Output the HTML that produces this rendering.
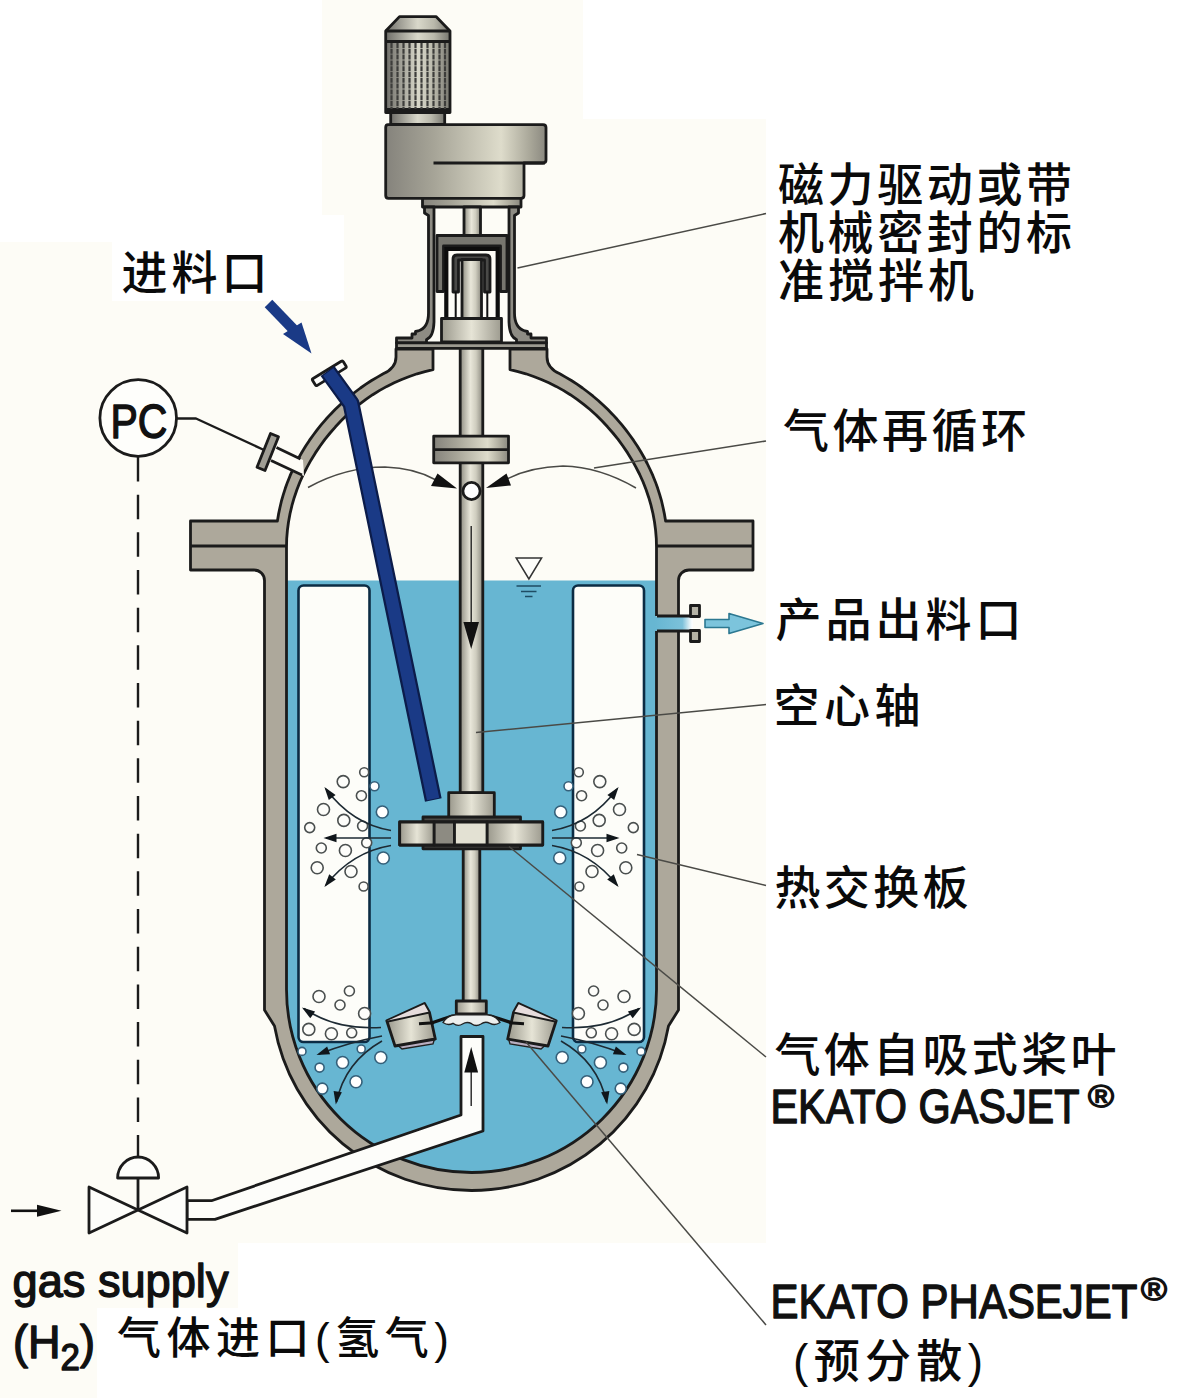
<!DOCTYPE html>
<html lang="zh">
<head>
<meta charset="utf-8">
<title>EKATO reactor</title>
<style>
html,body{margin:0;padding:0;background:#ffffff;}
svg{display:block;}
.cn{font-family:"Liberation Sans","Noto Sans CJK SC",sans-serif;font-weight:500;fill:#0a0a0a;}
.en{font-family:"Liberation Sans",sans-serif;fill:#111;stroke:#111;stroke-width:1.4;stroke-linejoin:round;}
.ol{stroke:#1b1b1b;stroke-width:2.8;stroke-linejoin:round;}
.thin{stroke:#4a4a46;stroke-width:1.5;fill:none;}
.bub circle{fill:#fdfdfa;stroke:#4a4f4f;stroke-width:1.6;}
.bubb circle{fill:#ffffff;stroke:#35607a;stroke-width:1.6;}
.flow{stroke:#1d2a33;stroke-width:1.6;fill:none;}
</style>
</head>
<body>
<svg width="1182" height="1398" viewBox="0 0 1182 1398">
<defs>
<linearGradient id="gShaft" x1="0" x2="1" y1="0" y2="0">
<stop offset="0" stop-color="#8f8d82"/><stop offset="0.45" stop-color="#e9e7da"/><stop offset="0.7" stop-color="#cfcdbf"/><stop offset="1" stop-color="#8b897f"/>
</linearGradient>
<linearGradient id="gMotor" x1="0" x2="1" y1="0" y2="0">
<stop offset="0" stop-color="#6f6e69"/><stop offset="0.5" stop-color="#d9d8ca"/><stop offset="0.75" stop-color="#b9b8ab"/><stop offset="1" stop-color="#77766f"/>
</linearGradient>
<linearGradient id="gGear" x1="0" x2="1" y1="0" y2="0">
<stop offset="0" stop-color="#85837c"/><stop offset="0.3" stop-color="#a6a497"/><stop offset="0.72" stop-color="#dedccb"/><stop offset="0.9" stop-color="#a9a799"/><stop offset="1" stop-color="#8a887f"/>
</linearGradient>
<linearGradient id="gHub" x1="0" x2="1" y1="0" y2="0">
<stop offset="0" stop-color="#9a988c"/><stop offset="0.5" stop-color="#e6e4d6"/><stop offset="1" stop-color="#9d9b8f"/>
</linearGradient>
<linearGradient id="gOut" x1="0" x2="1" y1="0" y2="0">
<stop offset="0" stop-color="#67b6d2"/><stop offset="0.72" stop-color="#7cc1da"/><stop offset="0.95" stop-color="#f4fafc"/><stop offset="1" stop-color="#ffffff"/>
</linearGradient>
</defs>

<!-- background -->
<rect x="0" y="0" width="1182" height="1398" fill="#fdfcf6"/>
<rect x="0" y="0" width="322" height="242" fill="#ffffff"/>
<rect x="112" y="215" width="232" height="86" fill="#ffffff"/>
<rect x="583" y="0" width="599" height="119" fill="#ffffff"/>
<rect x="766" y="0" width="416" height="1398" fill="#ffffff"/>
<rect x="238" y="1243" width="528" height="155" fill="#ffffff"/>
<rect x="97" y="1308" width="141" height="90" fill="#ffffff"/>

<!-- VESSEL -->
<g id="vessel">
<!-- outer silhouette -->
<path class="ol" fill="#ada89b" d="M396,349 L396,357 Q396,368 383.2,373.8 L377.4,377.1 L371.6,380.5 L366.0,384.2 L360.5,388.0 L355.2,392.0 L349.9,396.2 L344.8,400.5 L339.9,405.0 L335.1,409.6 L330.4,414.4 L325.9,419.3 L321.5,424.4 L317.3,429.6 L313.3,435.0 L309.4,440.4 L305.7,446.0 L302.2,451.7 L298.9,457.5 L295.8,463.5 L292.9,469.5 L290.1,475.7 L287.6,481.9 L285.3,488.3 L283.3,494.7 L281.4,501.2 L279.9,507.7 L278.5,514.4 L277.4,521.0 L190.5,521 L190.5,570 L254,570 A10.5,10.5 0 0 1 264.5,580.5 L264.5,1010 L274.5,1026 A200,198.8 0 0 0 668.5,1026 L678.5,1010 L678.5,580.5 A10.5,10.5 0 0 1 689,570 L753,570 L753,521 L665.6,521.0 L664.5,514.4 L663.1,507.7 L661.6,501.2 L659.7,494.7 L657.7,488.3 L655.4,481.9 L652.9,475.7 L650.1,469.5 L647.2,463.5 L644.1,457.5 L640.8,451.7 L637.3,446.0 L633.6,440.4 L629.7,435.0 L625.7,429.6 L621.5,424.4 L617.1,419.3 L612.6,414.4 L607.9,409.6 L603.1,405.0 L598.2,400.5 L593.1,396.2 L587.8,392.0 L582.5,388.0 L577.0,384.2 L571.4,380.5 L565.6,377.1 L559.8,373.8 Q547,368 547,357 L547,349 Z"/>
<!-- inner cavity -->
<path fill="#fdfcf6" d="M433,349 L433.0,369.6 L425.0,371.6 L417.1,373.8 L409.4,376.5 L401.7,379.5 L394.2,382.8 L386.9,386.4 L379.7,390.4 L372.7,394.7 L365.9,399.4 L359.3,404.3 L353.0,409.5 L346.9,415.0 L341.1,420.8 L335.5,426.8 L330.1,433.0 L324.9,439.4 L320.1,446.0 L315.4,452.9 L311.1,459.9 L307.1,467.1 L303.3,474.5 L299.9,482.0 L296.9,489.8 L294.2,497.7 L291.9,505.7 L290.0,513.8 L288.5,522.0 L287.4,530.3 L286.7,538.6 L286.5,547.0 L286.5,989.5 A185,183 0 0 0 656.5,989.5 L656.5,547.0 L656.3,538.6 L655.6,530.3 L654.5,522.0 L653.0,513.8 L651.1,505.7 L648.8,497.7 L646.1,489.8 L643.1,482.0 L639.7,474.5 L635.9,467.1 L631.9,459.9 L627.6,452.9 L622.9,446.0 L618.1,439.4 L612.9,433.0 L607.5,426.8 L601.9,420.8 L596.1,415.0 L590.0,409.5 L583.7,404.3 L577.1,399.4 L570.3,394.7 L563.3,390.4 L556.1,386.4 L548.8,382.8 L541.3,379.5 L533.6,376.5 L525.9,373.8 L518.0,371.6 L510.0,369.6 L510,349 Z"/>
<!-- liquid -->
<path fill="#67b6d2" d="M286.5,580.5 L656.5,580.5 L656.5,989.5 A185,183 0 0 1 286.5,989.5 Z"/>
<!-- flange mid lines -->
<path class="ol" fill="none" d="M190.5,546 L286,546 M657,546 L753,546"/>
<!-- heat exchanger plates -->
<rect x="298.5" y="585.5" width="71" height="456.5" rx="5" fill="#fdfdf9" stroke="#0c2c44" stroke-width="2.6"/>
<rect x="573" y="585.5" width="71" height="456.5" rx="5" fill="#fdfdf9" stroke="#0c2c44" stroke-width="2.6"/>
<!-- outlet nozzle -->
<rect x="655" y="617" width="38" height="13.5" fill="url(#gOut)"/>
<path class="ol" fill="none" d="M657,616 L691,616 M657,631 L691,631"/>
<rect x="690.5" y="605.5" width="9" height="11" fill="#b5b3a6" class="ol" stroke-width="2"/>
<rect x="690.5" y="630.5" width="9" height="11" fill="#b5b3a6" class="ol" stroke-width="2"/>
<polygon points="705,619.5 729,619.5 729,613.5 763,623.5 729,633.5 729,627.5 705,627.5" fill="#7cc4dc" stroke="#2c7891" stroke-width="1.6" stroke-linejoin="round"/>
<!-- inner cavity outline -->
<path class="ol" fill="none" d="M433,349 L433.0,369.6 L425.0,371.6 L417.1,373.8 L409.4,376.5 L401.7,379.5 L394.2,382.8 L386.9,386.4 L379.7,390.4 L372.7,394.7 L365.9,399.4 L359.3,404.3 L353.0,409.5 L346.9,415.0 L341.1,420.8 L335.5,426.8 L330.1,433.0 L324.9,439.4 L320.1,446.0 L315.4,452.9 L311.1,459.9 L307.1,467.1 L303.3,474.5 L299.9,482.0 L296.9,489.8 L294.2,497.7 L291.9,505.7 L290.0,513.8 L288.5,522.0 L287.4,530.3 L286.7,538.6 L286.5,547.0 L286.5,989.5 A185,183 0 0 0 656.5,989.5 L656.5,631 M656.5,616 L656.5,547.0 L656.3,538.6 L655.6,530.3 L654.5,522.0 L653.0,513.8 L651.1,505.7 L648.8,497.7 L646.1,489.8 L643.1,482.0 L639.7,474.5 L635.9,467.1 L631.9,459.9 L627.6,452.9 L622.9,446.0 L618.1,439.4 L612.9,433.0 L607.5,426.8 L601.9,420.8 L596.1,415.0 L590.0,409.5 L583.7,404.3 L577.1,399.4 L570.3,394.7 L563.3,390.4 L556.1,386.4 L548.8,382.8 L541.3,379.5 L533.6,376.5 L525.9,373.8 L518.0,371.6 L510.0,369.6 L510,349"/>
</g>

<!-- PC nozzle -->
<g id="pcnozzle">
<polygon points="276.5,447.5 303,460 304,476 271,460.5" fill="#fdfcf6"/>
<path class="ol" fill="none" d="M276.5,447.5 L300.5,459 M271,460.5 L302,475"/>
<polygon points="270.5,433.5 278.5,436.8 265,470.5 257,467.2" fill="#9f9d94" class="ol" stroke-width="2"/>
<path d="M177,418.5 L196,418.5 L264,450" fill="none" stroke="#1b1b1b" stroke-width="2.3" stroke-linejoin="round"/>
<circle cx="138.2" cy="418" r="38.3" fill="#fefefb" class="ol"/>
<text class="en" x="139" y="437.5" font-size="49" text-anchor="middle" textLength="57" lengthAdjust="spacingAndGlyphs" stroke-width="1.4">PC</text>
<path d="M138,457 L138,1158" stroke="#1b1b1b" stroke-width="2.4" stroke-dasharray="24.5 13.17" fill="none"/>
</g>
<!-- SECTION:PCNOZZLE -->
<!-- shaft & coupling -->
<g id="shaft">
<path class="thin" d="M308,487.5 Q345,467 385,467 Q415,468 436,480"/>
<path class="thin" d="M507,479 Q530,467 563,466 Q600,467 636,488"/>
<rect x="460.2" y="347" width="22.6" height="446" fill="url(#gShaft)" class="ol"/>
<rect x="463.2" y="846" width="16.6" height="156" fill="url(#gShaft)" class="ol"/>
<rect x="433.7" y="436.2" width="74.8" height="26.6" fill="url(#gGear)" class="ol"/>
<path class="ol" fill="none" d="M433.7,449.6 L508.5,449.6"/>
<circle cx="471.5" cy="491" r="8.6" fill="#ffffff" class="ol"/>
<polygon points="457,488.5 431,486 437.5,473.5" fill="#111"/>
<polygon points="486,488 511,485.5 506.5,473.5" fill="#111"/>
<path d="M471.2,526 L471.2,624" stroke="#222" stroke-width="1.4" fill="none"/>
<polygon points="463.4,622 479,622 471.2,649" fill="#111"/>
<!-- level mark -->
<polygon points="516.2,558 541.6,558 528.9,579" fill="#fdfdfa" stroke="#333" stroke-width="1.5"/>
<path d="M516.5,586 L541,586 M521,591.5 L536.5,591.5 M525,596.5 L532.5,596.5" stroke="#1f4c63" stroke-width="1.6" fill="none"/>
</g>
<!-- SECTION:SHAFT -->
<!-- drive unit -->
<g id="drive">
<!-- motor -->
<path d="M385.7,31 L399.5,16.6 L436,16.6 L450,31 L450,112.5 L385.7,112.5 Z" fill="url(#gMotor)" class="ol"/>
<path d="M385.7,31 L450,31 M385.7,41.5 L450,41.5 M385.7,109.5 L450,109.5" class="ol" fill="none" stroke-width="1.6"/>
<path d="M391.5,43 L391.5,109 M397.5,43 L397.5,109 M403.5,43 L403.5,109 M409.5,43 L409.5,109 M415.5,43 L415.5,109 M421.5,43 L421.5,109 M427.5,43 L427.5,109 M433.5,43 L433.5,109 M439.5,43 L439.5,109 M445.0,43 L445.0,109 " stroke="#3d3d3b" stroke-width="2.2" fill="none" stroke-dasharray="5 0.8"/>
<rect x="390.7" y="112.5" width="54" height="12" fill="url(#gMotor)" class="ol"/>
<!-- gearbox -->
<path d="M388,124.6 L543,124.6 Q546,124.6 546,127.6 L546,160 Q546,163 543,163 L524,163 L524,195.5 Q524,198.3 521,198.3 L388.5,198.3 Q385.7,198.3 385.7,195.5 L385.7,127.6 Q385.7,124.6 388,124.6 Z" fill="url(#gGear)" class="ol"/>
<path d="M433.5,163 L545,163" class="ol" fill="none" stroke-width="2.8"/>
<rect x="422.5" y="198.3" width="98.5" height="8.7" fill="url(#gGear)" class="ol"/>
<!-- lantern walls -->
<path d="M424.5,207 L424.5,213 L428.5,215.5 L428.5,313 Q428.5,328 418,331 L415.5,331.3 L415.5,334 L412,334 L412,338 L396.5,338 L396.5,343 L426.5,343 L426.5,339.5 Q433.5,337 434,322 L434,207 Z" fill="#8e8c84" class="ol" stroke-width="2"/>
<path d="M518.5,207 L518.5,213 L514.5,215.5 L514.5,313 Q514.5,328 525,331 L527.5,331.3 L527.5,334 L531,334 L531,338 L546.5,338 L546.5,343 L516.5,343 L516.5,339.5 Q509.5,337 509,322 L509,207 Z" fill="#8e8c84" class="ol" stroke-width="2"/>
<!-- drive shaft -->
<rect x="464" y="207" width="16.5" height="28.5" fill="url(#gShaft)" class="ol" stroke-width="2"/>
<!-- outer rotor cup -->
<path d="M437,235.5 L507,235.5 L507,291.5 L500.5,291.5 L500.5,246 L443.5,246 L443.5,291.5 L437,291.5 Z" fill="#77766f" class="ol" stroke-width="2"/>
<!-- containment shell -->
<path d="M446.3,320 L446.3,249 L497.7,249 L497.7,320" fill="none" stroke="#0d0d0d" stroke-width="4.2" stroke-linejoin="miter"/>
<!-- inner rotor -->
<path d="M453,292 L453,259 Q453,255 457,255 L486,255 Q490,255 490,259 L490,292 L484.5,292 L484.5,260 L458.5,260 L458.5,292 Z" fill="#4a4a48" class="ol" stroke-width="1.6"/>
<path d="M455.7,292 L455.7,319 M487.3,292 L487.3,319" stroke="#111" stroke-width="2" fill="none"/>
<rect x="462" y="259.5" width="19.5" height="60" fill="url(#gShaft)" class="ol" stroke-width="2"/>
<!-- seal hub -->
<rect x="441.5" y="318.5" width="60" height="23.5" fill="url(#gHub)" class="ol"/>
<!-- cover plate -->
<rect x="396.5" y="342.8" width="150" height="5.6" fill="#9c9a90" class="ol" stroke-width="2"/>
</g>
<!-- SECTION:DRIVE -->
<!-- impellers -->
<g id="gasjet">
<rect x="448.7" y="792.7" width="45.6" height="25" fill="url(#gHub)" class="ol"/>
<rect x="423" y="817" width="97.5" height="5.2" fill="#4b4a46" class="ol" stroke-width="1.6"/>
<rect x="423" y="844.8" width="97.5" height="4" fill="#4b4a46" class="ol" stroke-width="1.6"/>
<rect x="399.7" y="822" width="143" height="23" fill="#d9d7c9" class="ol"/>
<rect x="399.7" y="822" width="34.5" height="23" fill="url(#gHub)" class="ol"/>
<rect x="434.2" y="822" width="20.3" height="23" fill="#8d8b82" class="ol"/>
<rect x="454.5" y="822" width="32.7" height="23" fill="#e3e1d3" class="ol"/>
<rect x="487.2" y="822" width="55.5" height="23" fill="url(#gHub)" class="ol"/>
</g>
<g id="phasejet">
<rect x="456.3" y="1001" width="30" height="13" fill="url(#gHub)" class="ol"/>
<path d="M430,1023.5 L452,1016 L491,1016 L514,1023.5" fill="none" stroke="#111" stroke-width="3.2"/>
<path d="M443,1022.5 Q447,1015.5 456,1014.8 L487,1014.8 Q496,1015.5 500,1022.5 Q495,1026 490,1023.3 Q485,1021 481,1024 Q476,1027 471.5,1023.7 Q467,1021 462.5,1024 Q458,1027 453,1023.3 Q448,1026 443,1022.5 Z" fill="#eef0ee" stroke="#222" stroke-width="1.4"/>
<polygon points="398,1045.5 434.5,1039 433,1044 402,1049" fill="#b9aec0" stroke="#222" stroke-width="1.4"/>
<polygon points="545,1045.5 508.5,1039 510,1044 541,1049" fill="#b9aec0" stroke="#222" stroke-width="1.4"/>
<polygon points="386.8,1020.8 424.5,1003.5 429.5,1012.5 435.3,1039 395,1046" fill="url(#gHub)" class="ol"/>
<polygon points="556.2,1020.8 518.5,1003.5 513.5,1012.5 507.7,1039 548,1046" fill="url(#gHub)" class="ol"/>
<polygon points="387.5,1020.8 424.2,1004.3 428.7,1012.3 389.5,1021.3" fill="#e6dcdc"/>
<polygon points="555.5,1020.8 518.8,1004.3 514.3,1012.3 553.5,1021.3" fill="#e6dcdc"/>
<path d="M388,1021.5 L429.5,1012.5 M555,1021.5 L513.5,1012.5" stroke="#1b1b1b" stroke-width="1.8" fill="none"/>
<path d="M434,1022.8 L419,1023.8 M509,1022.8 L524,1023.8" stroke="#111" stroke-width="3"/>
</g>
<!-- SECTION:IMPELLERS -->
<!-- bubbles -->
<g class="bub"><circle cx="364.2" cy="772.2" r="4.5"/><circle cx="578.8" cy="772.2" r="4.5"/><circle cx="343.2" cy="781.6" r="6"/><circle cx="599.8" cy="781.6" r="6"/><circle cx="361.4" cy="795.7" r="5"/><circle cx="581.6" cy="795.7" r="5"/><circle cx="323.5" cy="809.5" r="6"/><circle cx="619.5" cy="809.5" r="6"/><circle cx="343.8" cy="820.4" r="6"/><circle cx="599.2" cy="820.4" r="6"/><circle cx="362.6" cy="826.0" r="5"/><circle cx="580.4" cy="826.0" r="5"/><circle cx="309.7" cy="827.6" r="5"/><circle cx="633.3" cy="827.6" r="5"/><circle cx="366.7" cy="842.7" r="5"/><circle cx="576.3" cy="842.7" r="5"/><circle cx="321.3" cy="848.0" r="5"/><circle cx="621.7" cy="848.0" r="5"/><circle cx="345.4" cy="850.5" r="6"/><circle cx="597.6" cy="850.5" r="6"/><circle cx="317.2" cy="867.7" r="6"/><circle cx="625.8" cy="867.7" r="6"/><circle cx="351.0" cy="871.5" r="6"/><circle cx="592.0" cy="871.5" r="6"/><circle cx="363.6" cy="886.5" r="4.5"/><circle cx="579.4" cy="886.5" r="4.5"/><circle cx="319.0" cy="996.5" r="6"/><circle cx="624.0" cy="996.5" r="6"/><circle cx="349.4" cy="991.0" r="5"/><circle cx="593.6" cy="991.0" r="5"/><circle cx="340.0" cy="1005.0" r="5"/><circle cx="603.0" cy="1005.0" r="5"/><circle cx="364.6" cy="1013.5" r="6"/><circle cx="578.4" cy="1013.5" r="6"/><circle cx="308.8" cy="1029.4" r="6"/><circle cx="634.2" cy="1029.4" r="6"/><circle cx="331.4" cy="1033.8" r="6"/><circle cx="611.6" cy="1033.8" r="6"/><circle cx="351.7" cy="1032.8" r="5"/><circle cx="591.3" cy="1032.8" r="5"/></g>
<g class="bubb"><circle cx="374.5" cy="786.3" r="4.5"/><circle cx="568.5" cy="786.3" r="4.5"/><circle cx="382.3" cy="812.0" r="6"/><circle cx="560.7" cy="812.0" r="6"/><circle cx="383.3" cy="858.0" r="6"/><circle cx="559.7" cy="858.0" r="6"/><circle cx="302.0" cy="1051.4" r="4"/><circle cx="641.0" cy="1051.4" r="4"/><circle cx="361.2" cy="1049.0" r="4"/><circle cx="581.8" cy="1049.0" r="4"/><circle cx="380.8" cy="1057.5" r="6"/><circle cx="562.2" cy="1057.5" r="6"/><circle cx="342.6" cy="1062.5" r="6"/><circle cx="600.4" cy="1062.5" r="6"/><circle cx="319.6" cy="1067.6" r="4.5"/><circle cx="623.4" cy="1067.6" r="4.5"/><circle cx="356.0" cy="1081.8" r="6"/><circle cx="587.0" cy="1081.8" r="6"/><circle cx="322.3" cy="1088.6" r="5.5"/><circle cx="620.7" cy="1088.6" r="5.5"/></g>
<!-- flow arrows -->
<g class="flow"><path d="M391,830.5 Q352,824 326,789"/><path d="M 552.0 830.5 Q 591.0 824.0 617.0 789.0"/><path d="M391,838 L326,838"/><path d="M 552.0 838.0 L 617.0 838.0"/><path d="M391,845.5 Q352,852 326,885"/><path d="M 552.0 845.5 Q 591.0 852.0 617.0 885.0"/><path d="M381,1027.5 Q335,1030 304,1008.5"/><path d="M 562.0 1027.5 Q 608.0 1030.0 639.0 1008.5"/><path d="M382,1036 Q350,1042 319,1054"/><path d="M 561.0 1036.0 Q 593.0 1042.0 624.0 1054.0"/><path d="M382,1041 Q345,1062 336.5,1102"/><path d="M 561.0 1041.0 Q 598.0 1062.0 606.5 1102.0"/></g>
<g fill="#10161b"><polygon points="324.4,787.0 335.6,794.9 328.8,799.9"/><polygon points="618.6,787.0 607.4,794.9 614.2,799.9"/><polygon points="323.5,838.0 336.5,833.8 336.5,842.2"/><polygon points="619.5,838.0 606.5,833.8 606.5,842.2"/><polygon points="324.4,887.0 329.2,874.2 335.8,879.4"/><polygon points="618.6,887.0 613.8,874.2 607.2,879.4"/><polygon points="302.0,1007.4 315.1,1011.4 310.3,1018.3"/><polygon points="641.0,1007.4 627.9,1011.4 632.7,1018.3"/><polygon points="316.5,1055.0 327.1,1046.4 330.1,1054.2"/><polygon points="626.5,1055.0 615.9,1046.4 612.9,1054.2"/><polygon points="335.8,1104.5 333.6,1091.0 341.9,1092.3"/><polygon points="607.2,1104.5 609.4,1091.0 601.1,1092.3"/></g>
<!-- SECTION:BUBBLES -->
<!-- feed pipe (blue) -->
<g id="feed">
<g transform="translate(329.3,373.3) rotate(-31.5)"><rect x="-18" y="-4" width="36" height="8" rx="1.5" fill="#fdfdfa" class="ol" stroke-width="2"/></g>
<path d="M327.5,371 L351,403.5 L433.3,800" fill="none" stroke="#0c1c4a" stroke-width="17" stroke-linejoin="round"/>
<path d="M328.2,372 L351,403.5 L433.1,799" fill="none" stroke="#1a3a86" stroke-width="12.5" stroke-linejoin="round"/>
<path d="M268.5,303.5 L294,330" stroke="#1a3a86" stroke-width="10.5" fill="none"/>
<polygon points="311.5,353.5 283,334 301.5,322.5" fill="#1a3a86"/>
</g>
<!-- gas inlet pipe & valve -->
<g id="gas">
<path d="M187,1200.7 L211.5,1200.7 L461,1115 L461,1036.5 L483,1036.5 L483,1131 L215,1219.3 L187,1219.3 Z" fill="#fdfdfa" class="ol"/>
<path d="M471.2,1070 L471.2,1106" stroke="#222" stroke-width="1.4" fill="none"/>
<polygon points="464.3,1072.5 478.1,1072.5 471.2,1047" fill="#111"/>
<path d="M89,1187 L89,1233 L187,1187 L187,1233 Z" fill="#fdfdfa" class="ol" stroke-width="2"/>
<path d="M117.6,1178 A20.5,21 0 0 1 158.6,1178 Z" fill="#fdfdfa" class="ol" stroke-width="2"/>
<path d="M138,1178 L138,1210" class="ol" stroke-width="2" fill="none"/>
<path d="M11,1210.8 L40,1210.8" stroke="#111" stroke-width="2.6" fill="none"/>
<polygon points="37,1204.8 61.5,1210.8 37,1216.8" fill="#111"/>
</g>
<!-- SECTION:PIPES -->
<!-- leader lines -->
<g class="thin">
<path d="M517.5,268 L766,213.5"/>
<path d="M594,468 L766,441"/>
<path d="M476,732.5 L766,704.5"/>
<path d="M637,854.5 L766,885.5"/>
<path d="M509,846.5 L766,1057"/>
<path d="M526,1042 L766,1325"/>
</g>
<!-- SECTION:LEADERS -->
<!-- labels -->
<g id="labels">
<text class="cn" x="121.5" y="288.5" font-size="46" textLength="146" lengthAdjust="spacing">进料口</text>
<text class="cn" x="778" y="200.5" font-size="46" textLength="294" lengthAdjust="spacing">磁力驱动或带</text>
<text class="cn" x="778" y="248.5" font-size="46" textLength="294" lengthAdjust="spacing">机械密封的标</text>
<text class="cn" x="778" y="296.5" font-size="46" textLength="196" lengthAdjust="spacing">准搅拌机</text>
<text class="cn" x="783" y="447" font-size="46" textLength="244" lengthAdjust="spacing">气体再循环</text>
<text class="cn" x="775.5" y="636" font-size="46" textLength="246" lengthAdjust="spacing">产品出料口</text>
<text class="cn" x="773.5" y="722" font-size="46" textLength="147" lengthAdjust="spacing">空心轴</text>
<text class="cn" x="774.5" y="904" font-size="46" textLength="194" lengthAdjust="spacing">热交换板</text>
<text class="cn" x="774.5" y="1070.5" font-size="46" textLength="342" lengthAdjust="spacing">气体自吸式桨叶</text>
<text class="en" x="770.5" y="1122.7" font-size="48.5" textLength="309" lengthAdjust="spacingAndGlyphs">EKATO GASJET</text>
<text class="en" x="1088" y="1106.5" font-size="31" textLength="26" lengthAdjust="spacingAndGlyphs" stroke-width="0.5">®</text>
<text class="en" x="770.5" y="1318" font-size="48.5" textLength="367" lengthAdjust="spacingAndGlyphs">EKATO PHASEJET</text>
<text class="en" x="1141" y="1300" font-size="31" textLength="26" lengthAdjust="spacingAndGlyphs" stroke-width="0.5">®</text>
<text class="cn" x="793" y="1376.5" font-size="46" textLength="190" lengthAdjust="spacing">(预分散)</text>
<text class="en" x="12.5" y="1296.7" font-size="46.5" textLength="216" lengthAdjust="spacingAndGlyphs">gas supply</text>
<text class="en" x="13" y="1358" font-size="46.5" textLength="82" lengthAdjust="spacingAndGlyphs">(H<tspan font-size="36" dy="12">2</tspan><tspan dy="-12">)</tspan></text>
<text class="cn" x="117" y="1354" font-size="44" textLength="332" lengthAdjust="spacing">气体进口(氢气)</text>
</g>
<!-- SECTION:TEXT -->
</svg>
</body>
</html>
